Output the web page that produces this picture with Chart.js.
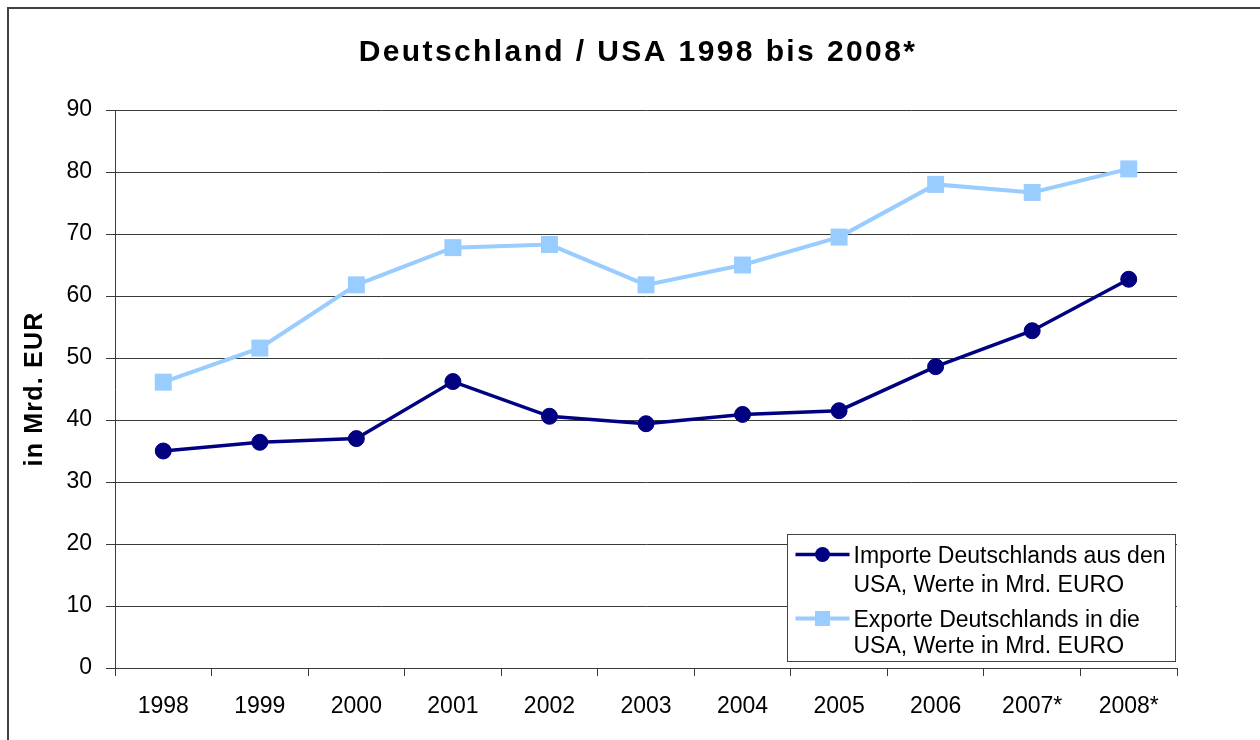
<!DOCTYPE html>
<html>
<head>
<meta charset="utf-8">
<script src="https://cdn.jsdelivr.net/npm/chart.js@4.4.1/dist/chart.umd.min.js"></script>
<style>
  html, body { margin: 0; padding: 0; background: #ffffff; }
  #wrap { width: 1260px; height: 740px; position: relative; }
</style>
</head>
<body>
<div id="wrap"><canvas id="c" width="1260" height="740"></canvas></div>
<script>
const years = ['1998', '1999', '2000', '2001', '2002', '2003', '2004', '2005', '2006', '2007*', '2008*'];
const importe = [35.0, 36.4, 37.0, 46.2, 40.6, 39.4, 40.9, 41.5, 48.6, 54.4, 62.7];
const exporte = [46.1, 51.6, 61.8, 67.8, 68.3, 61.8, 65.0, 69.5, 78.0, 76.7, 80.5];
const titleText = 'Deutschland / USA 1998 bis 2008*';
const yAxisTitle = 'in Mrd. EUR';
const seriesLabels = [
  ['Importe Deutschlands aus den', 'USA, Werte in Mrd. EURO'],
  ['Exporte Deutschlands in die', 'USA, Werte in Mrd. EURO']
];

const FONT = "'Liberation Sans', Arial, sans-serif";
const GRID = '#3a3a3a';

const framePlugin = {
  id: 'frame',
  beforeDraw(chart) {
    const ctx = chart.ctx;
    ctx.save();
    ctx.fillStyle = '#ffffff';
    ctx.fillRect(0, 0, chart.width, chart.height);
    ctx.strokeStyle = '#404040';
    ctx.lineWidth = 2;
    ctx.beginPath();
    ctx.moveTo(8, chart.height + 2);
    ctx.lineTo(8, 8);
    ctx.lineTo(chart.width + 2, 8);
    ctx.stroke();
    ctx.restore();
  }
};

// letter spacing for the chart title (centred over the whole canvas) and the y axis title
const spacingPlugin = {
  id: 'spacing',
  afterLayout(chart) {
    const tb = chart.titleBlock;
    if (tb && !tb._spaced) {
      const orig = tb.draw.bind(tb);
      tb.draw = function () {
        const ctx = chart.ctx;
        ctx.save();
        ctx.letterSpacing = '2.4px';
        const boxCenter = (tb.left + tb.right) / 2;
        ctx.translate(chart.width / 2 + 8 - boxCenter, 0);
        orig();
        ctx.restore();
      };
      tb._spaced = true;
    }
    const ys = chart.scales.y;
    if (ys && !ys._spaced) {
      const origT = ys.drawTitle.bind(ys);
      ys.drawTitle = function () {
        const ctx = chart.ctx;
        ctx.save();
        ctx.letterSpacing = '1.2px';
        origT();
        ctx.restore();
      };
      ys._spaced = true;
    }
  }
};

const boxLegend = {
  id: 'boxLegend',
  afterDraw(chart) {
    const ctx = chart.ctx;
    const ca = chart.chartArea;
    const bw = 388, bh = 127;
    const bx = ca.right - bw - 1.5, by = ca.bottom - bh - 6.5;
    ctx.save();
    ctx.fillStyle = '#ffffff';
    ctx.fillRect(bx, by, bw, bh);
    ctx.strokeStyle = '#444444';
    ctx.lineWidth = 1;
    ctx.strokeRect(bx, by, bw, bh);
    ctx.font = '23px ' + FONT;
    ctx.fillStyle = '#000000';
    ctx.textBaseline = 'alphabetic';
    ctx.textAlign = 'left';
    const baselines = [[28, 57], [92, 118]];
    const symY = [20, 84];
    chart.data.datasets.forEach((ds, i) => {
      const sy = by + symY[i];
      ctx.strokeStyle = ds.borderColor;
      ctx.lineWidth = ds.borderWidth;
      ctx.beginPath();
      ctx.moveTo(bx + 8, sy);
      ctx.lineTo(bx + 62, sy);
      ctx.stroke();
      ctx.fillStyle = ds.pointBackgroundColor;
      if (ds.pointStyle === 'rect') {
        const s = 15;
        ctx.fillRect(bx + 35 - s / 2, sy - s / 2, s, s);
      } else {
        ctx.beginPath();
        ctx.arc(bx + 35, sy, 7.5, 0, Math.PI * 2);
        ctx.fill();
      }
      ctx.fillStyle = '#000000';
      const lines = seriesLabels[i];
      lines.forEach((t, j) => {
        ctx.fillText(t, bx + 66, by + baselines[i][j]);
      });
    });
    ctx.restore();
  }
};

new Chart(document.getElementById('c'), {
  type: 'line',
  data: {
    labels: years,
    datasets: [
      {
        label: seriesLabels[0].join(' '),
        data: importe,
        borderColor: '#000080',
        backgroundColor: '#000080',
        pointBackgroundColor: '#000080',
        pointBorderColor: '#000080',
        borderWidth: 3.5,
        pointStyle: 'circle',
        pointRadius: 8,
        pointBorderWidth: 1,
        tension: 0
      },
      {
        label: seriesLabels[1].join(' '),
        data: exporte,
        borderColor: '#99CCFF',
        backgroundColor: '#99CCFF',
        pointBackgroundColor: '#99CCFF',
        pointBorderColor: '#99CCFF',
        borderWidth: 4,
        pointStyle: 'rect',
        pointRadius: 12,
        pointBorderWidth: 0,
        tension: 0
      }
    ]
  },
  options: {
    responsive: false,
    animation: false,
    devicePixelRatio: 1,
    layout: { padding: { left: 0, right: 83, top: 0, bottom: 0 } },
    plugins: {
      legend: { display: false },
      tooltip: { enabled: false },
      title: {
        display: true,
        text: titleText,
        color: '#000000',
        font: { family: FONT, size: 30, weight: 'bold' },
        padding: { top: 35, bottom: 39 }
      }
    },
    scales: {
      x: {
        type: 'category',
        offset: true,
        grid: {
          offset: true,
          display: true,
          drawOnChartArea: false,
          drawTicks: true,
          tickLength: 8,
          color: GRID,
          lineWidth: 1
        },
        border: { display: true, color: GRID, width: 1 },
        ticks: {
          color: '#000000',
          font: { family: FONT, size: 23 },
          padding: 17,
          maxRotation: 0,
          autoSkip: false
        },
        afterFit(scale) { scale.height = 72; }
      },
      y: {
        min: 0,
        max: 90,
        grid: {
          color: GRID,
          lineWidth: 1,
          drawTicks: true,
          tickLength: 9
        },
        border: { display: true, color: GRID, width: 1 },
        ticks: {
          stepSize: 10,
          color: '#000000',
          font: { family: FONT, size: 23 },
          padding: 14
        },
        title: {
          display: true,
          text: yAxisTitle,
          color: '#000000',
          font: { family: FONT, size: 25, weight: 'bold' },
          padding: { top: 20, bottom: 0 }
        },
        afterFit(scale) { scale.width = 115; }
      }
    }
  },
  plugins: [framePlugin, spacingPlugin, boxLegend]
});
</script>
</body>
</html>
